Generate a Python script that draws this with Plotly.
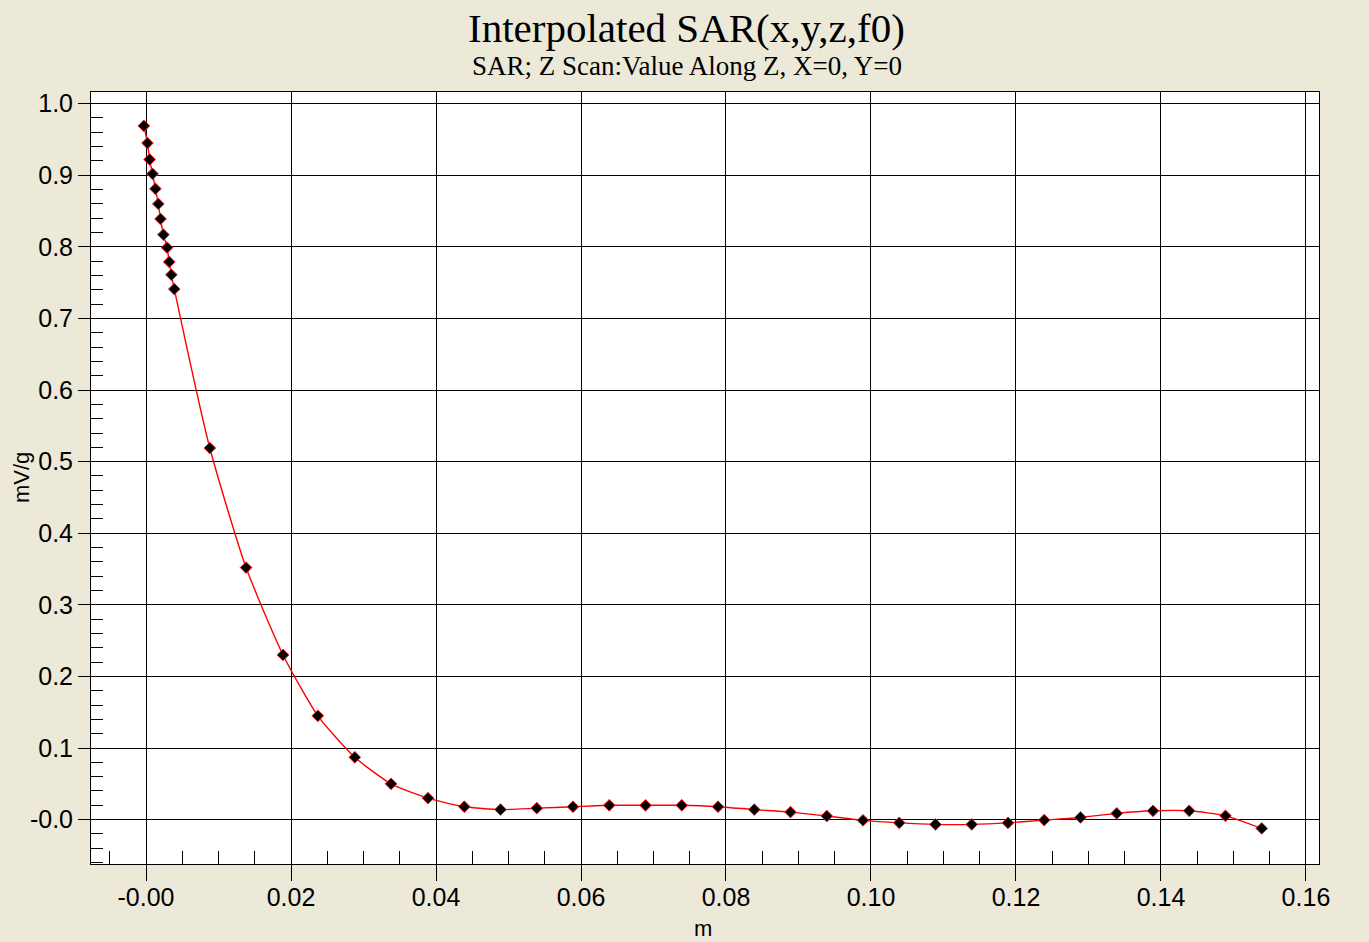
import plotly.graph_objects as go

# Data
z_m = [-0.0003, 0.0002, 0.0005, 0.0009, 0.0013, 0.0017, 0.0020, 0.0024, 0.0029, 0.0032, 0.0035, 0.0039,
       0.0088, 0.0138, 0.0189, 0.0237, 0.0288, 0.0338, 0.0389, 0.0439, 0.0489, 0.0539, 0.0589,
       0.0639, 0.0689, 0.0739, 0.0789, 0.0839, 0.0889, 0.0939, 0.0989, 0.1039, 0.1089, 0.1139,
       0.1189, 0.1239, 0.1289, 0.1339, 0.1389, 0.1439, 0.1489, 0.1539]
sar = [0.969, 0.945, 0.922, 0.902, 0.881, 0.860, 0.839, 0.817, 0.799, 0.779, 0.761, 0.741,
       0.519, 0.352, 0.230, 0.145, 0.087, 0.050, 0.030, 0.018, 0.014, 0.016, 0.018,
       0.020, 0.020, 0.020, 0.018, 0.014, 0.0105, 0.005, -0.001, -0.0045, -0.0067, -0.0067,
       -0.0045, -0.0007, 0.003, 0.0087, 0.0123, 0.0123, 0.0053, -0.0123]

x_tickvals = [0.0, 0.02, 0.04, 0.06, 0.08, 0.10, 0.12, 0.14, 0.16]
x_ticktext = ["-0.00", "0.02", "0.04", "0.06", "0.08", "0.10", "0.12", "0.14", "0.16"]
y_tickvals = [0.0, 0.1, 0.2, 0.3, 0.4, 0.5, 0.6, 0.7, 0.8, 0.9, 1.0]
y_ticktext = ["-0.0", "0.1", "0.2", "0.3", "0.4", "0.5", "0.6", "0.7", "0.8", "0.9", "1.0"]

title_text = "Interpolated SAR(x,y,z,f0)"
subtitle_text = "SAR; Z Scan:Value Along Z, X=0, Y=0"

fig = go.Figure()
fig.add_trace(go.Scatter(
    x=z_m, y=sar, mode="lines+markers",
    line=dict(color="#FF0000", width=1.4, shape="spline", smoothing=0.6),
    marker=dict(symbol="diamond", size=9, color="black", line=dict(color="#FF2020", width=1)),
    showlegend=False,
))

axis_common = dict(
    showline=True, linecolor="black", linewidth=1, mirror=True,
    showgrid=True, gridcolor="black", gridwidth=1, zeroline=False,
    ticks="outside", tickcolor="black",
    tickfont=dict(family="Liberation Sans, Arial, sans-serif", size=25, color="black"),
)

fig.update_xaxes(
    range=[-0.00759, 0.1618], tickmode="array", tickvals=x_tickvals, ticktext=x_ticktext,
    ticklen=16, ticklabelstandoff=-5,
    minor=dict(ticks="inside", ticklen=13, tickcolor="black", dtick=0.005, tick0=0, showgrid=False),
    **axis_common,
)
fig.update_yaxes(
    range=[-0.062, 1.0163], tickmode="array", tickvals=y_tickvals, ticktext=y_ticktext,
    ticklen=12,
    minor=dict(ticks="inside", ticklen=12, tickcolor="black", dtick=0.02, tick0=0, showgrid=False),
    **axis_common,
)

fig.update_layout(
    width=1369, height=942,
    margin=dict(l=91, r=50, t=92, b=78),
    paper_bgcolor="#ECE9D8", plot_bgcolor="white",
    annotations=[
        dict(text=title_text, x=0.485, y=1.083, xref="paper", yref="paper", showarrow=False,
             xanchor="center", yanchor="middle",
             font=dict(family="Liberation Serif, Times New Roman, serif", size=41, color="black")),
        dict(text=subtitle_text, x=0.485, y=1.034, xref="paper", yref="paper", showarrow=False,
             xanchor="center", yanchor="middle",
             font=dict(family="Liberation Serif, Times New Roman, serif", size=27, color="black")),
        dict(text="mV/g", x=-0.057, y=0.5, xref="paper", yref="paper", showarrow=False,
             textangle=-90, xanchor="center", yanchor="middle",
             font=dict(family="Liberation Sans, Arial, sans-serif", size=22, color="black")),
        dict(text="m", x=0.498, y=-0.083, xref="paper", yref="paper", showarrow=False,
             xanchor="center", yanchor="middle",
             font=dict(family="Liberation Sans, Arial, sans-serif", size=22, color="black")),
    ],
)

fig.write_html("out.html", config={"displayModeBar": False},
               post_script="document.body.style.margin='0';document.body.style.padding='0';")
